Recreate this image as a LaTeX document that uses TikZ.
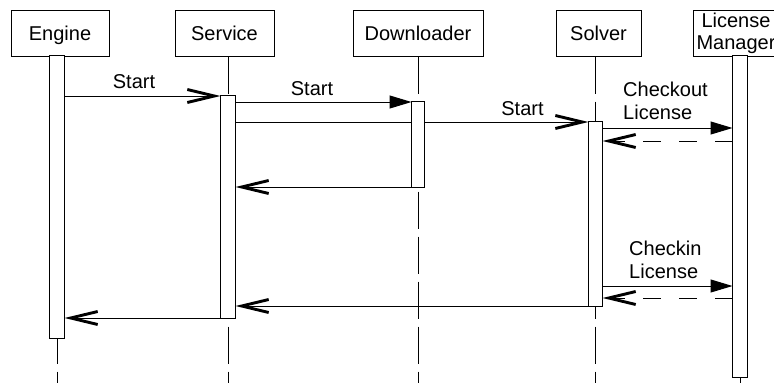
\documentclass[tikz,border=0pt]{standalone}
\usepackage{fontspec}
\setmainfont{Liberation Sans}
\usetikzlibrary{arrows.meta}
\begin{document}
\begin{tikzpicture}[x=1pt,y=-1pt,
  every node/.style={font=\fontsize{20}{22}\selectfont},
  head/.style={draw, line width=1pt, minimum height=46pt, inner sep=0pt, align=center},
  onehead/.style={head, text height=16pt, text depth=2pt},
  bar/.style={draw, fill=white, line width=1pt, inner sep=0pt},
  life/.style={line width=1pt, dash pattern=on 37pt off 8pt},
  call/.style={line width=1pt, -{Triangle[length=22pt,width=13pt]}},
  async/.style={line width=1pt, -{Straight Barb[length=27pt,width=13pt,line width=2.9pt]}},
  reply/.style={async, dash pattern=on 18pt off 18pt},
  lbl/.style={inner sep=0pt, anchor=base},
  note/.style={inner sep=0pt, anchor=south west, text depth=0pt, align=left,
    font=\fontsize{20}{23}\selectfont}
]
\useasboundingbox (0,0) rectangle (774,383);
\clip (0,0) rectangle (774,383);

% participants
\node[onehead, minimum width=98pt]  (hE) at (60,33)    {Engine};
\node[onehead, minimum width=99pt]  (hS) at (224.5,33) {Service};
\node[onehead, minimum width=130pt] (hD) at (418,33)   {Downloader};
\node[onehead, minimum width=85pt]  (hV) at (598.5,33) {Solver};
\node[head,    minimum width=86pt]  (hL) at (736,33)   {License\\Manager};

% activation bars (placed first so the lifelines can refer to them)
\path
  node[bar, minimum width=14pt, minimum height=282pt] (bE) at (57,197)    {}
  node[bar, minimum width=14pt, minimum height=222pt] (bS) at (228,207)   {}
  node[bar, minimum width=12pt, minimum height=85pt]  (bD) at (418,144.5) {}
  node[bar, minimum width=13pt, minimum height=184pt] (bV) at (595.5,214) {}
  node[bar, minimum width=14pt, minimum height=321pt] (bL) at (740,216.5) {};

% lifelines
\draw[life] (bE.center |- hE.south) -- (bE.center |- 0,383);
\draw[life] (bS.center |- hS.south) -- (bS.center |- 0,383);
\draw[life] (bD.center |- hD.south) -- (bD.center |- 0,383);
\draw[life] (bV.center |- hV.south) -- (bV.center |- 0,383);
\draw[life] (bL.center |- hL.south) -- (bL.center |- 0,383);

% messages
\draw[async] (bE.east |- 0,96)  -- (bS.west |- 0,96);
\draw[call]  (bS.east |- 0,102) -- (bD.west |- 0,102);
\draw[async] (bS.east |- 0,122) -- (bV.west |- 0,122);
\draw[call]  (bV.east |- 0,128) -- (bL.west |- 0,128);
\draw[reply] (bL.west |- 0,141) -- (bV.east |- 0,141);
\draw[async] (bD.west |- 0,187) -- (bS.east |- 0,187);
\draw[call]  (bV.east |- 0,286) -- (bL.west |- 0,286);
\draw[reply] (bL.west |- 0,298) -- (bV.east |- 0,298);
\draw[async] (bV.west |- 0,306) -- (bS.east |- 0,306);
\draw[async] (bS.west |- 0,318) -- (bE.east |- 0,318);

% bars drawn again on top of the lifelines and message lines
\foreach \b in {bE,bS,bD,bV,bL}
  \draw[line width=1pt, fill=white] (\b.north west) rectangle (\b.south east);

% message labels
\node[lbl]  (t1) at (134,88)    {Start};
\node[lbl]  (t2) at (312,95)    {Start};
\node[lbl]  (t3) at (522.5,115) {Start};
\node[note] (t4) at (623,120)   {Checkout\\License};
\node[note] (t5) at (629,279)   {Checkin\\License};
\end{tikzpicture}
\end{document}
